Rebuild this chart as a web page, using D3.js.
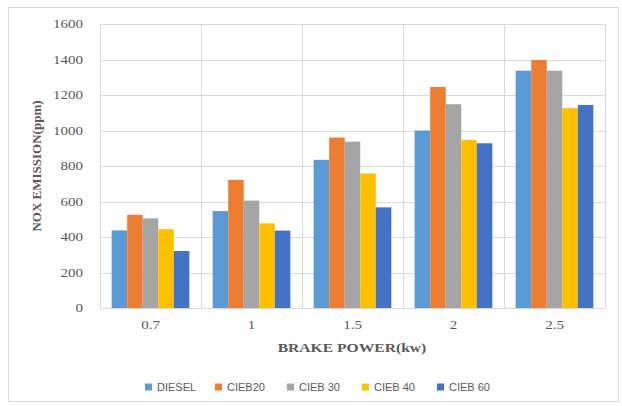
<!DOCTYPE html>
<html>
<head>
<meta charset="utf-8">
<script src="https://cdn.jsdelivr.net/npm/d3@7"></script>
<style>
  html, body { margin: 0; padding: 0; background: #fff; }
  svg { display: block; }
</style>
</head>
<body>
<svg id="chart" width="622" height="406"></svg>
<script>
// Brake power levels (kW) on the x axis
const categories = ["0.7", "1", "1.5", "2", "2.5"];

// Fuel blends shown in the legend
const seriesNames = ["DIESEL", "CIEB20", "CIEB 30", "CIEB 40", "CIEB 60"];

// NOx emission (ppm) per blend, one value per brake power level
const diesel = [437, 546, 835, 1000, 1337];
const cieb20 = [525, 722, 960, 1245, 1397];
const cieb30 = [505, 605, 937, 1148, 1337];
const cieb40 = [444, 477, 758, 947, 1126];
const cieb60 = [321, 436, 567, 928, 1144];

const yTicks = [0, 200, 400, 600, 800, 1000, 1200, 1400, 1600];

const seriesValues = [diesel, cieb20, cieb30, cieb40, cieb60];
const colors = ["#5B9BD5", "#ED7D31", "#A5A5A5", "#FFC000", "#4472C4"];

const svg = d3.select("#chart");

// outer chart frame
svg.append("rect")
  .attr("x", 8.5).attr("y", 7.5)
  .attr("width", 610).attr("height", 394)
  .attr("fill", "#fff").attr("stroke", "#d9d9d9").attr("stroke-width", 1);

const plot = { left: 100, right: 605, top: 24, bottom: 308 };

const x0 = d3.scaleBand()
  .domain(categories)
  .range([plot.left, plot.right])
  .padding(0);

// five bars per group with a 150% gap split on both sides
const x1 = d3.scaleBand()
  .domain(seriesNames)
  .range([0, x0.bandwidth()])
  .paddingInner(0)
  .paddingOuter(0.75);

const y = d3.scaleLinear()
  .domain([0, 1600])
  .range([plot.bottom, plot.top]);

const tickColor = "#595959";
const serif = "'Liberation Serif', 'Times New Roman', serif";
const sans = "'Liberation Sans', Arial, sans-serif";

// widen serif labels horizontally to match the wide lettering
function widen(sel, k) {
  sel.each(function () {
    const w = this.getComputedTextLength();
    d3.select(this)
      .attr("textLength", w * k)
      .attr("lengthAdjust", "spacingAndGlyphs");
  });
}

// horizontal gridlines
svg.append("g")
  .selectAll("line")
  .data(yTicks)
  .join("line")
  .attr("x1", plot.left).attr("x2", plot.right)
  .attr("y1", d => Math.round(y(d)) + 0.5)
  .attr("y2", d => Math.round(y(d)) + 0.5)
  .attr("stroke", "#d9d9d9").attr("stroke-width", 1);

// vertical gridlines at category boundaries
const bounds = categories.map(c => x0(c)).concat([plot.right]);
svg.append("g")
  .selectAll("line")
  .data(bounds)
  .join("line")
  .attr("x1", d => Math.round(d) + 0.5).attr("x2", d => Math.round(d) + 0.5)
  .attr("y1", plot.top).attr("y2", plot.bottom)
  .attr("stroke", "#d9d9d9").attr("stroke-width", 1);

// bars
const rows = categories.map((c, i) => ({
  cat: c,
  vals: seriesNames.map((s, j) => ({ s, j, v: seriesValues[j][i] }))
}));

svg.append("g")
  .selectAll("g")
  .data(rows)
  .join("g")
  .attr("transform", d => `translate(${x0(d.cat)},0)`)
  .selectAll("rect")
  .data(d => d.vals)
  .join("rect")
  .attr("x", d => x1(d.s))
  .attr("y", d => y(d.v))
  .attr("width", x1.bandwidth())
  .attr("height", d => y(0) - y(d.v))
  .attr("fill", d => colors[d.j]);

// y axis labels
const yAxis = d3.axisLeft(y).tickValues(yTicks).tickFormat(d3.format("d"))
  .tickSize(0).tickPadding(17);
const gy = svg.append("g")
  .attr("transform", `translate(${plot.left},0)`)
  .call(yAxis);
gy.select(".domain").remove();
gy.selectAll("text")
  .attr("fill", tickColor)
  .style("font-family", serif)
  .style("font-size", "12px")
  .call(widen, 1.25);

// x axis labels
const xAxis = d3.axisBottom(x0).tickSize(0).tickPadding(12);
const gx = svg.append("g")
  .attr("transform", `translate(0,${plot.bottom})`)
  .call(xAxis);
gx.select(".domain").remove();
gx.selectAll("text")
  .attr("fill", tickColor)
  .style("font-family", serif)
  .style("font-size", "12px")
  .call(widen, 1.25);

// axis titles
svg.append("text")
  .attr("x", 352)
  .attr("y", 352)
  .attr("text-anchor", "middle")
  .attr("fill", tickColor)
  .style("font-family", serif)
  .style("font-size", "12px")
  .style("font-weight", "bold")
  .text("BRAKE POWER(kw)")
  .call(widen, 1.3);

svg.append("text")
  .attr("transform", `translate(41,${(plot.top + plot.bottom) / 2}) rotate(-90)`)
  .attr("text-anchor", "middle")
  .attr("fill", tickColor)
  .style("font-family", serif)
  .style("font-size", "13px")
  .style("font-weight", "bold")
  .text("NOX EMISSION(ppm)");

// legend
const legendX = [145, 215, 287, 362, 437];
const legend = svg.append("g")
  .selectAll("g")
  .data(seriesNames)
  .join("g")
  .attr("transform", (d, i) => `translate(${legendX[i]},387)`);
legend.append("rect")
  .attr("x", 0).attr("y", -3.5)
  .attr("width", 7).attr("height", 7)
  .attr("fill", (d, i) => colors[i]);
legend.append("text")
  .attr("x", 12).attr("y", 4)
  .attr("fill", tickColor)
  .style("font-family", sans)
  .style("font-size", "11px")
  .text(d => d);
</script>
</body>
</html>
